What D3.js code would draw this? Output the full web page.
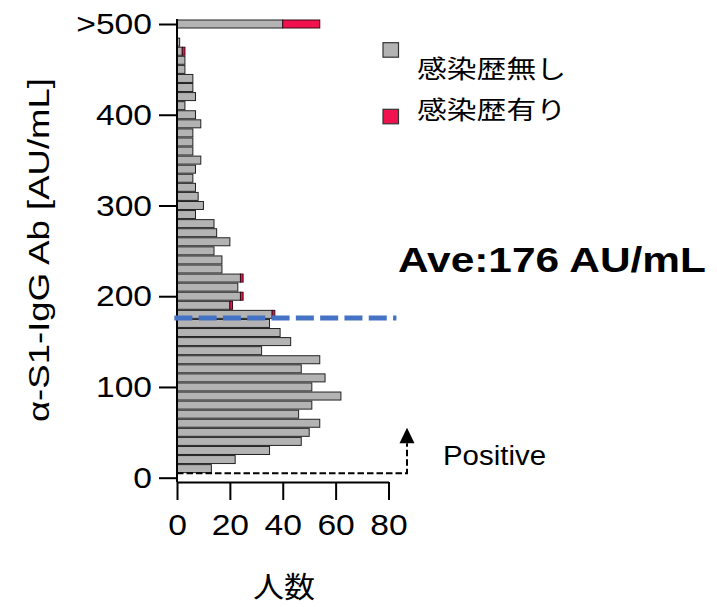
<!DOCTYPE html>
<html><head><meta charset="utf-8">
<script src="https://cdn.jsdelivr.net/npm/d3@7"></script>
<style>body{margin:0;background:#fff}svg{display:block}</style>
</head><body>
<script>
// ---- data ----
const binCenters = [10,20,30,40,50,60,70,80,90,100,
  110,120,130,140,150,160,170,180,190,200,
  210,220,230,240,250,260,270,280,290,300,
  310,320,330,340,350,360,370,380,390,400,
  410,420,430,440,450,460,470,480,490,500];
const noInfection = [13,22,35,47,50,54,46,51,62,51,
  56,47,54,32,43,39,35,36,20,24,
  23,24,17,17,14,20,15,14,7,10,
  8,7,6,7,9,6,6,6,9,7,
  3,7,6,6,3,3,2,1,0,40];
const withInfection = [0,0,0,0,0,0,0,0,0,0,
  0,0,0,0,0,0,0,1,1,1,
  0,1,0,0,0,0,0,0,0,0,
  0,0,0,0,0,0,0,0,0,0,
  0,0,0,0,0,0,1,0,0,14];
const yTickValues = [0,100,200,300,400,500];
const yTickLabels = ["0","100","200","300","400",">500"];
const xTickValues = [0,20,40,60,80];
const seriesNames = ["感染歴無し","感染歴有り"];
const averageValue = 176;
const averageLineExtent = [-1, 83];
const positiveCutoff = 5;
const positiveArrowX = 87;
const positiveArrowTop = 55;
const positiveArrowBase = 38;

// ---- drawing ----
const W = 717, H = 607;
const gray = "#b3b3b3", red = "#f0124f";
const font = "'Liberation Sans', Arial, Helvetica, sans-serif";
const cjk = "'Noto Sans CJK JP', 'Noto Sans CJK SC', sans-serif";

const svg = d3.select("body").append("svg").attr("width", W).attr("height", H);

const x = d3.scaleLinear().domain([0, 80]).range([177, 388.5]);
const y = d3.scaleLinear().domain([0, 500]).range([477.7, 24]);
const barH = 8;

const rows = binCenters.map((c, i) => ({c, a: noInfection[i], b: withInfection[i]}));

// gray bars
svg.append("g").selectAll("rect").data(rows.filter(d => d.a > 0)).join("rect")
  .attr("x", x(0)).attr("y", d => y(d.c) - barH/2)
  .attr("width", d => x(d.a) - x(0)).attr("height", barH)
  .attr("fill", gray).attr("stroke", "#222").attr("stroke-width", 1);
// red bars (stacked)
svg.append("g").selectAll("rect").data(rows.filter(d => d.b > 0)).join("rect")
  .attr("x", d => x(d.a)).attr("y", d => y(d.c) - barH/2)
  .attr("width", d => x(d.a + d.b) - x(d.a)).attr("height", barH)
  .attr("fill", red).attr("stroke", "#3a0a16").attr("stroke-width", 1);

// y axis
const yAxis = svg.append("g").attr("transform", `translate(${x(0)},0)`)
  .call(d3.axisLeft(y).tickValues(yTickValues).tickFormat((d, i) => yTickLabels[i])
    .tickSize(18).tickSizeOuter(0).tickPadding(7));
yAxis.select(".domain").remove();
yAxis.selectAll(".tick line").attr("stroke", "#000").attr("stroke-width", 2);
yAxis.selectAll(".tick text").attr("font-family", font).attr("font-size", 30).attr("fill", "#000");
svg.append("line").attr("x1", x(0)).attr("x2", x(0)).attr("y1", 19).attr("y2", 482)
  .attr("stroke", "#000").attr("stroke-width", 2);

// x axis
const xAxis = svg.append("g").attr("transform", `translate(0,482)`)
  .call(d3.axisBottom(x).tickValues(xTickValues).tickSize(18).tickSizeOuter(0).tickPadding(14));
xAxis.select(".domain").attr("stroke", "#000").attr("stroke-width", 2);
xAxis.selectAll(".tick line").attr("stroke", "#000").attr("stroke-width", 2);
xAxis.selectAll(".tick text").attr("font-family", font).attr("font-size", 30).attr("fill", "#000");

function stretch(sel, k) {
  sel.each(function() {
    const l = this.getComputedTextLength();
    this.setAttribute("textLength", l * k);
    this.setAttribute("lengthAdjust", "spacingAndGlyphs");
  });
}
stretch(yAxis.selectAll(".tick text"), 1.12);
stretch(xAxis.selectAll(".tick text"), 1.12);

// average line
svg.append("line")
  .attr("x1", x(averageLineExtent[0])).attr("x2", x(averageLineExtent[1]))
  .attr("y1", y(averageValue)).attr("y2", y(averageValue))
  .attr("stroke", "#4472c4").attr("stroke-width", 5).attr("stroke-dasharray", "18 6.3");

// positive threshold
svg.append("path")
  .attr("d", `M${x(0)},${y(positiveCutoff)}H${x(positiveArrowX)}V${y(positiveArrowBase)}`)
  .attr("fill", "none").attr("stroke", "#000").attr("stroke-width", 2).attr("stroke-dasharray", "6.5 3");
svg.append("path")
  .attr("d", `M${x(positiveArrowX)},${y(positiveArrowTop)}L${x(positiveArrowX)+7.5},${y(positiveArrowBase)}L${x(positiveArrowX)-7.5},${y(positiveArrowBase)}Z`)
  .attr("fill", "#000");
svg.append("text").attr("x", 443).attr("y", 465).text("Positive")
  .attr("font-family", font).attr("font-size", 27).attr("fill", "#000")
  .attr("textLength", 103).attr("lengthAdjust", "spacingAndGlyphs");

// average text
svg.append("text").attr("x", 398).attr("y", 271.7).text("Ave:" + averageValue + " AU/mL")
  .attr("font-family", font).attr("font-size", 35).attr("font-weight", "bold").attr("fill", "#000")
  .attr("textLength", 308).attr("lengthAdjust", "spacingAndGlyphs");

// legend
const legend = [
  {name: seriesNames[0], color: gray, sy: 42.7, ty: 78},
  {name: seriesNames[1], color: red, sy: 109.3, ty: 119}
];
legend.forEach(l => {
  svg.append("rect").attr("x", 383).attr("y", l.sy).attr("width", 15.5).attr("height", 14.5)
    .attr("fill", l.color).attr("stroke", "#333").attr("stroke-width", 1.2);
  svg.append("text").attr("x", 417).attr("y", l.ty).text(l.name)
    .attr("font-family", cjk).attr("font-size", 25).attr("fill", "#000")
    .attr("textLength", 149).attr("lengthAdjust", "spacingAndGlyphs");
});

// axis titles
svg.append("text").attr("transform", "translate(48.7,250) rotate(-90)")
  .attr("text-anchor", "middle").text("α-S1-IgG Ab [AU/mL]")
  .attr("font-family", font).attr("font-size", 30).attr("fill", "#000")
  .attr("textLength", 344).attr("lengthAdjust", "spacingAndGlyphs");
svg.append("text").attr("x", 284).attr("y", 598).attr("text-anchor", "middle").text("人数")
  .attr("font-family", cjk).attr("font-size", 29).attr("fill", "#000")
  .attr("textLength", 62).attr("lengthAdjust", "spacingAndGlyphs");
</script>
</body></html>
